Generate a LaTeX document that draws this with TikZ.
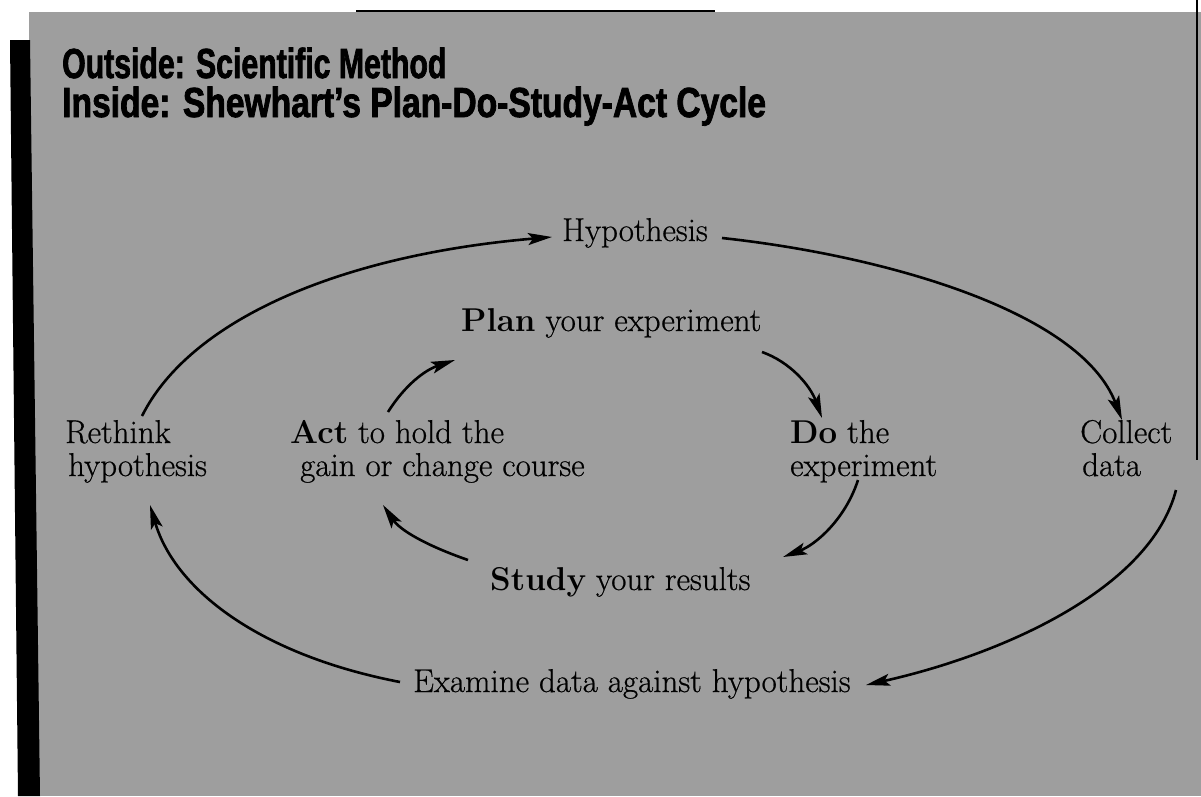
\documentclass[tikz,border=0pt]{standalone}
\usepackage{fontspec}
\usetikzlibrary{arrows.meta}
\setmainfont{Latin Modern Roman}[UprightFeatures={FakeBold=0.6}]
\newfontfamily\titlefont[FakeStretch=0.80,FakeBold=1.8]{Liberation Sans}
\newcommand\bodyfont{\fontsize{33}{38}\selectfont}
\definecolor{bggray}{gray}{0.62}
\begin{document}
\begin{tikzpicture}[x=1pt,y=-1pt,
  lbl/.style={inner sep=0pt, anchor=base west, font=\bodyfont},
  ttl/.style={inner sep=0pt, anchor=base west, font=\titlefont\bfseries\fontsize{42}{46}\selectfont},
  arr/.style={line width=2.6pt, -{Stealth[length=24pt,width=12pt,inset=5pt]}},
]
\useasboundingbox (0,0) rectangle (1201,796);
\fill[white] (0,0) rectangle (1201,796);
\fill[bggray] (29,12) rectangle (1201,796);
\fill[black] (10,40) -- (30,40) -- (40,796) -- (18,796) -- cycle;
\draw[line width=2pt] (356,11) -- (715,11);
\draw[line width=1.5pt] (1197,0) -- (1197,460);

% titles
\node[ttl] (t1) at (62,78) {\scalebox{0.9}[1]{Outside: Scientific Method}};
\node[ttl] (t2) at (62,117) {Inside: Shewhart’s Plan-Do-Study-Act Cycle};

% outer cycle
\node[lbl] (hyp) at (562,241) {Hypothesis};
\node[lbl] (col1) at (1080,443) {Collect};
\node[lbl] (col2) at (1082,476) {data};
\node[lbl] (exa) at (413,692) {Examine data against hypothesis};
\node[lbl] (ret1) at (65,443) {Rethink};
\node[lbl] (ret2) at (68,476) {hypothesis};

% inner cycle
\node[lbl] (plan) at (461,331) {\textbf{Plan} your experiment};
\node[lbl] (do1) at (790,443) {\textbf{Do} the};
\node[lbl] (do2) at (790,476) {experiment};
\node[lbl] (study) at (490,590) {\textbf{Study} your results};
\node[lbl] (act1) at (290,443) {\textbf{Act} to hold the};
\node[lbl] (act2) at (300,476) {gain or change course};

% connector end points
\coordinate (rA) at (142,416);
\coordinate (hA) at (552,237);
\coordinate (hB) at (722,238);
\coordinate (cA) at (1122,420);
\coordinate (cB) at (1176,490);
\coordinate (eA) at (866,685);
\coordinate (eB) at (400,682);
\coordinate (rB) at (150,505);

\coordinate (aA) at (388,412);
\coordinate (pA) at (455,360);
\coordinate (pB) at (762,352);
\coordinate (dA) at (822,418);
\coordinate (dB) at (858,480);
\coordinate (sA) at (783,557);
\coordinate (sB) at (468,560);
\coordinate (aB) at (383,505);

\draw[arr] (rA) .. controls (190,320) and (340,255) .. (hA);
\draw[arr] (hB) .. controls (880,255) and (1080,310) .. (cA);
\draw[arr] (cB) .. controls (1150,590) and (1000,655) .. (eA);
\draw[arr] (eB) .. controls (260,655) and (175,590) .. (rB);

\draw[arr] (aA) .. controls (405,385) and (425,370) .. (pA);
\draw[arr] (pB) .. controls (790,362) and (810,385) .. (dA);
\draw[arr] (dB) .. controls (845,520) and (815,545) .. (sA);
\draw[arr] (sB) .. controls (425,545) and (400,530) .. (aB);
\end{tikzpicture}
\end{document}
